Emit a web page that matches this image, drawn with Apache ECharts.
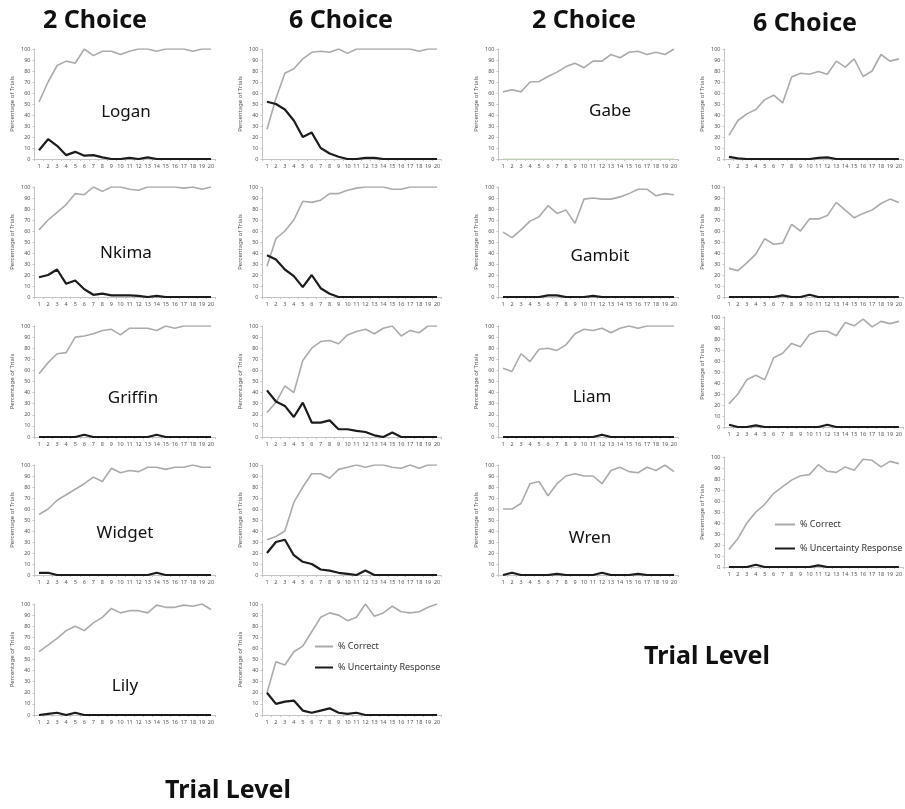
<!DOCTYPE html>
<html><head><meta charset="utf-8">
<script src="https://cdn.jsdelivr.net/npm/echarts@6/dist/echarts.min.js"></script>
<style>html,body{margin:0;padding:0;background:#fff}#c{width:905px;height:809px}</style>
</head><body><div id="c"></div>
<script>
const trials = ['1','2','3','4','5','6','7','8','9','10','11','12','13','14','15','16','17','18','19','20'];
const seriesNames = ['% Correct', '% Uncertainty Response'];

// Left group
const loganCorrect2 = [52,70,85,89,87,100,94,98,98,95,98,100,100,98,100,100,100,98,100,100];
const loganUnc2     = [8,18,12,3.5,6.5,3,3.5,1.5,0,0,1,0,1.5,0,0,0,0,0,0,0];
const loganCorrect6 = [27,55,78,82,91,97,98,97,100,96,100,100,100,100,100,100,100,98,100,100];
const loganUnc6     = [52,50,45,35,20,24,10,5,2,0,0,1,1,0,0,0,0,0,0,0];
const nkimaCorrect2 = [61,70,77,84,94,93,100,96,100,100,98,97,100,100,100,100,99,100,98,100];
const nkimaUnc2     = [18,20,25,12,15,7,2,3,1.5,1.5,1.5,1,0,1,0,0,0,0,0,0];
const nkimaCorrect6 = [28,53,60,70,87,86,88,94,94,97,99,100,100,100,98,98,100,100,100,100];
const nkimaUnc6     = [38,34,25,19,9,20,8,3,0,0,0,0,0,0,0,0,0,0,0,0];
const griffinCorrect2 = [57,67,75,76,90,91,93,96,97,92,98,98,98,96,100,98,100,100,100,100];
const griffinUnc2     = [0,0,0,0,0,2,0,0,0,0,0,0,0,2,0,0,0,0,0,0];
const griffinCorrect6 = [22,31,46,40,69,80,86,87,84,92,95,97,93,98,100,91,96,94,100,100];
const griffinUnc6     = [42,32,28,18,31,13,13,15,7,7,5.5,4.5,1.5,0,4,0,0,0,0,0];
const widgetCorrect2 = [55,60,68,73,78,83,89,85,97,93,95,94,98,98,96,98,98,100,98,98];
const widgetUnc2     = [2,2,0,0,0,0,0,0,0,0,0,0,0,2,0,0,0,0,0,0];
const widgetCorrect6 = [32,35,40,66,80,92,92,88,96,98,100,98,100,100,98,97,100,97,100,100];
const widgetUnc6     = [20,30,32,18,12,10,5,4,2,1,0,4,0,0,0,0,0,0,0,0];
const lilyCorrect2 = [57,63,69,76,80,76,83,88,96,92,94,94,92,99,97,97,99,98,100,95];
const lilyUnc2     = [0,1,2,0,2,0,0,0,0,0,0,0,0,0,0,0,0,0,0,0];
const lilyCorrect6 = [20,48,45,57,62,75,88,92,90,85,88,100,89,92,98,93,92,93,97,100];
const lilyUnc6     = [20,10,12,13,4,2,4,6,2,1,2,0,0,0,0,0,0,0,0,0];

// Right group
const gabeCorrect2 = [61,63,61,70,70.5,75,79,84,87,83,89,89,95,92,97,98,95,97,95,100];
const gabeUnc2     = [0,0,0,0,0,0,0,0,0,0,0,0,0,0,0,0,0,0,0,0];
const gabeCorrect6 = [21.5,35,41,45,54,58,51,74.5,78,77,79.5,77,89,83.5,91,75,80,95,89,91];
const gabeUnc6     = [2,0.5,0,0,0,0,0,0,0,0,1,1.5,0,0,0,0,0,0,0,0];
const gambitCorrect2 = [59,54,61,69,73,83,76,79,67,89,90,89,89,91,94,98,98,92,94,93];
const gambitUnc2     = [0,0,0,0,0,1.5,1.5,0,0,0,1,0,0,0,0,0,0,0,0,0];
const gambitCorrect6 = [26,24,31,39,53,48,49,66,60,71,71,74,86,79,72,76,79,85,89,86];
const gambitUnc6     = [0,0,0,0,0,0,1.5,0,0,2,0,0,0,0,0,0,0,0,0,0];
const liamCorrect2 = [62,59,75,68,79,80,78,83,93,97,96,98,94,98,100,98,100,100,100,100];
const liamUnc2     = [0,0,0,0,0,0,0,0,0,0,0,2,0,0,0,0,0,0,0,0];
const liamCorrect6 = [21,30,43,47,43,63,67,76,73,84,87,87,83,95,92,98,91,96,94,96];
const liamUnc6     = [2,0,0,1.5,0,0,0,0,0,0,0,2,0,0,0,0,0,0,0,0];
const wrenCorrect2 = [60,60,65,83,85,72,83,90,92,90,90,83,95,98,94,93,98,95,100,94];
const wrenUnc2     = [0,2,0,0,0,0,1,0,0,0,0,2,0,0,0,1,0,0,0,0];
const wrenCorrect6 = [16,26,40,50,57,67,73,79,83,84,93,87,86,91,88,98,97,91,96,94];
const wrenUnc6     = [0,0,0,2,0,0,0,0,0,0,1.5,0,0,0,0,0,0,0,0,0];

// layout (positions only)
const colL = [34.5, 262.5, 498.5, 724.5];
const colW = [181, 179, 180, 180.5];
const panels = [
  {col:0, top:49,  h:110, c:loganCorrect2,   u:loganUnc2},
  {col:1, top:49,  h:110, c:loganCorrect6,   u:loganUnc6},
  {col:0, top:187, h:110, c:nkimaCorrect2,   u:nkimaUnc2},
  {col:1, top:187, h:110, c:nkimaCorrect6,   u:nkimaUnc6},
  {col:0, top:326, h:111, c:griffinCorrect2, u:griffinUnc2},
  {col:1, top:326, h:111, c:griffinCorrect6, u:griffinUnc6},
  {col:0, top:465, h:110, c:widgetCorrect2,  u:widgetUnc2},
  {col:1, top:465, h:110, c:widgetCorrect6,  u:widgetUnc6},
  {col:0, top:604, h:111, c:lilyCorrect2,    u:lilyUnc2},
  {col:1, top:604, h:111, c:lilyCorrect6,    u:lilyUnc6},
  {col:2, top:49,  h:110, c:gabeCorrect2,    u:gabeUnc2, uColor:'#b9d9a3', uWidth:1},
  {col:3, top:49,  h:110, c:gabeCorrect6,    u:gabeUnc6},
  {col:2, top:187, h:110, c:gambitCorrect2,  u:gambitUnc2},
  {col:3, top:187, h:110, c:gambitCorrect6,  u:gambitUnc6},
  {col:2, top:326, h:111, c:liamCorrect2,    u:liamUnc2},
  {col:3, top:317, h:110, c:liamCorrect6,    u:liamUnc6},
  {col:2, top:465, h:110, c:wrenCorrect2,    u:wrenUnc2},
  {col:3, top:457, h:110, c:wrenCorrect6,    u:wrenUnc6}
];

const labels = [
  {t:'Logan', x:126, y:112}, {t:'Nkima', x:126, y:253}, {t:'Griffin', x:133, y:398},
  {t:'Widget', x:125, y:533}, {t:'Lily', x:125, y:686},
  {t:'Gabe', x:610, y:111}, {t:'Gambit', x:600, y:256}, {t:'Liam', x:592, y:397}, {t:'Wren', x:590, y:538}
];
const headers = [
  {t:'2 Choice', x:95, y:21}, {t:'6 Choice', x:341, y:21},
  {t:'2 Choice', x:584, y:21}, {t:'6 Choice', x:805, y:24},
  {t:'Trial Level', x:228, y:791}, {t:'Trial Level', x:707, y:657}
];

const grids = [], xAxes = [], yAxes = [], series = [];
const font = '"Noto Sans", "DejaVu Sans", sans-serif';
panels.forEach((p, i) => {
  grids.push({left: colL[p.col], top: p.top, width: colW[p.col], height: p.h, containLabel: false});
  xAxes.push({
    type: 'category', gridIndex: i, data: trials, boundaryGap: true,
    axisLine: {lineStyle: {color: '#c4c4c4', width: 1}},
    axisTick: {show: true, length: 2, lineStyle: {color: '#c4c4c4'}},
    axisLabel: {interval: 0, fontSize: 5.5, color: '#555', margin: 4, fontFamily: font},
    splitLine: {show: false}
  });
  yAxes.push({
    type: 'value', gridIndex: i, min: 0, max: 100, interval: 10,
    name: 'Percentage of Trials', nameLocation: 'middle', nameGap: 19,
    nameTextStyle: {fontSize: 6, color: '#555', fontFamily: font},
    axisLine: {show: true, lineStyle: {color: '#c4c4c4', width: 1}},
    axisTick: {show: true, length: 2, lineStyle: {color: '#c4c4c4'}},
    axisLabel: {fontSize: 5.5, color: '#555', margin: 4, fontFamily: font},
    splitLine: {show: false}
  });
  series.push({
    type: 'line', name: seriesNames[0], xAxisIndex: i, yAxisIndex: i, data: p.c,
    symbol: 'none', lineStyle: {color: '#ababab', width: 1.6}, itemStyle: {color: '#ababab'}, z: 2, animation: false
  });
  series.push({
    type: 'line', name: seriesNames[1], xAxisIndex: i, yAxisIndex: i, data: p.u,
    symbol: 'none', lineStyle: {color: p.uColor || '#1c1c1c', width: p.uWidth || 2.2},
    itemStyle: {color: '#1c1c1c'}, z: 3, animation: false
  });
});

const graphic = [];
headers.forEach(h => graphic.push({type: 'text', x: h.x, y: h.y,
  style: {text: h.t, font: 'bold 25px ' + font, fill: '#111', textAlign: 'center', textVerticalAlign: 'middle', align: 'center', verticalAlign: 'middle'}}));
labels.forEach(l => graphic.push({type: 'text', x: l.x, y: l.y,
  style: {text: l.t, font: '17px ' + font, fill: '#111', textAlign: 'center', textVerticalAlign: 'middle', align: 'center', verticalAlign: 'middle'}}));

const legendCommon = {
  data: seriesNames, orient: 'vertical', icon: 'rect', itemHeight: 2,
  textStyle: {fontSize: 9, color: '#333', fontFamily: font}, selectedMode: false
};
const chart = echarts.init(document.getElementById('c'), null, {renderer: 'canvas'});
chart.setOption({
  backgroundColor: '#fff',
  animation: false,
  grid: grids, xAxis: xAxes, yAxis: yAxes, series: series,
  legend: [
    Object.assign({}, legendCommon, {left: 310, top: 637, itemWidth: 18, itemGap: 12}),
    Object.assign({}, legendCommon, {left: 770, top: 515, itemWidth: 20, itemGap: 15})
  ],
  graphic: graphic
});
</script></body></html>
